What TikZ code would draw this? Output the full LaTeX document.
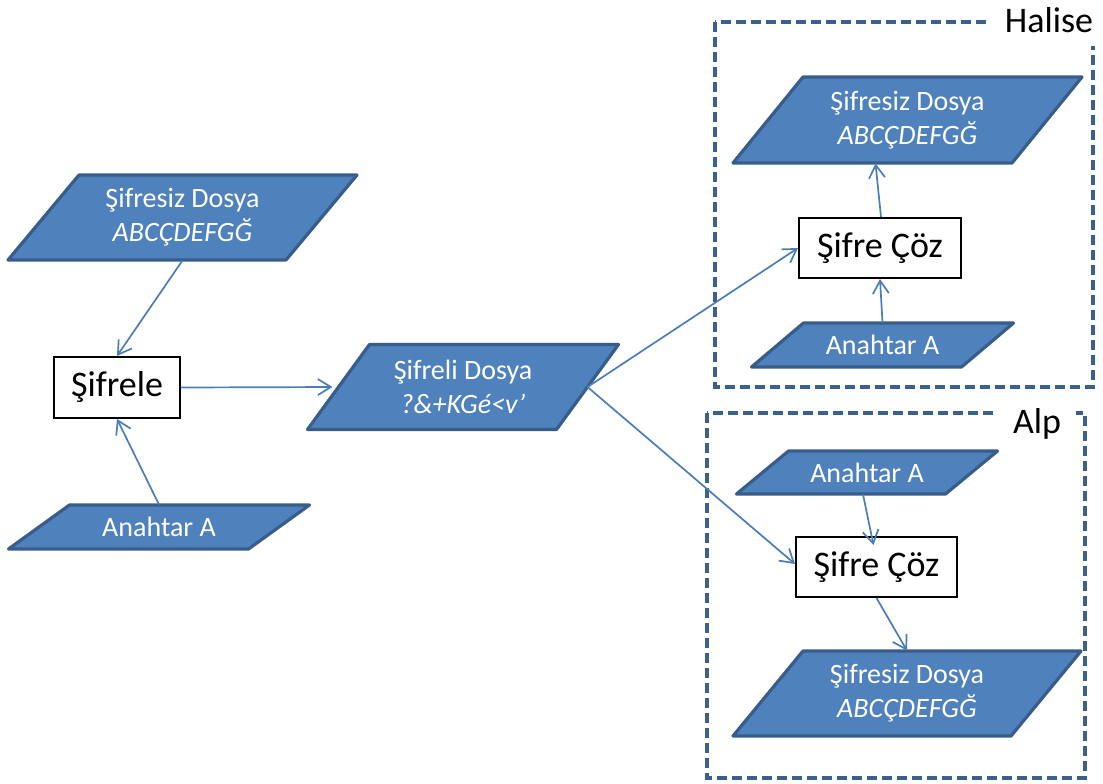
\documentclass[tikz,border=0pt]{standalone}
\usepackage{fontspec}
\setmainfont{Carlito}
\usetikzlibrary{arrows.meta,calc}

\definecolor{iofill}{HTML}{4F81BD}
\definecolor{ioline}{HTML}{385D8A}
\definecolor{connline}{HTML}{4A7EBB}
\definecolor{groupline}{HTML}{3B6090}

\tikzset{
  iobody/.style={fill=iofill, draw=ioline, line width=1.6pt, line join=round},
  iotext/.style={text=white, inner sep=0pt, align=center,
    font=\fontsize{14}{17}\selectfont},
  procbox/.style={draw=black, fill=white, line width=1pt, inner sep=0pt,
    font=\fontsize{18}{22}\selectfont},
  conn/.style={draw=connline, line width=0.85pt,
    -{Straight Barb[length=6.5pt,width=8pt]}},
  groupbox/.style={draw=groupline, line width=1.75pt, dash pattern=on 5pt off 2.5pt},
  grouplabel/.style={fill=white, inner sep=0pt, font=\fontsize{18}{22}\selectfont},
}

% data parallelogram: name, centre x, centre y, side length, height, slant, text
\newcommand\ioshape[7]{%
  \draw[iobody] ({#2-#4/2-#6/2},{#3+#5/2}) -- ({#2-#4/2+#6/2},{#3-#5/2})
    -- ({#2+#4/2+#6/2},{#3-#5/2}) -- ({#2+#4/2-#6/2},{#3+#5/2}) -- cycle;
  \node[iotext, minimum height={#5*0.5pt}] (#1) at (#2,#3) {#7};
  \coordinate (#1-e) at ({#2+#4/2},#3);
  \coordinate (#1-w) at ({#2-#4/2},#3);
}

\begin{document}
\begin{tikzpicture}[x=0.5pt, y=-0.5pt]
\useasboundingbox (0,0) rectangle (1103,783);

% group frames
\draw[groupbox] (715,22) rectangle (1093,387);
\draw[groupbox] (707,413) rectangle (1085,778);
\node[grouplabel, minimum width=59pt, minimum height=26pt] (halise) at (1049,20) {Halise};
\node[grouplabel, minimum width=39pt, minimum height=15pt] (alp) at (1037,424) {Alp};

% encryption side
\ioshape{plain}{182.5}{217.5}{278}{85}{71}{Şifresiz Dosya\\\textit{ABCÇDEFGĞ}}
\ioshape{keyenc}{159}{527}{240}{44}{61}{Anahtar A}
\ioshape{cipher}{463}{387}{249}{85}{62}{Şifreli Dosya\\\textit{?\&+KGé<v’}}
\node[procbox, minimum width=63pt, minimum height=30.5pt] (enc) at (117,387.5) {Şifrele};

% Halise
\ioshape{plainH}{907.5}{120}{279}{86}{70}{Şifresiz Dosya\\\textit{ABCÇDEFGĞ}}
\ioshape{keyH}{882.5}{345}{210}{44}{52}{Anahtar A}
\node[procbox, minimum width=81pt, minimum height=30pt] (decH) at (880,248) {Şifre Çöz};

% Alp
\ioshape{keyA}{867}{472.5}{209}{43}{52}{Anahtar A}
\ioshape{plainA}{907}{693.5}{278}{85}{70}{Şifresiz Dosya\\\textit{ABCÇDEFGĞ}}
\node[procbox, minimum width=80.5pt, minimum height=30pt] (decA) at (876.5,567) {Şifre Çöz};

% connectors
\draw[conn] (plain.south) -- (enc.north);
\draw[conn] (keyenc.north) -- (enc.south);
\draw[conn] (enc.east) -- ($(cipher-w)+(-6,0)$);
\draw[conn] (cipher-e) -- (decH.west);
\draw[conn] (cipher-e) -- ($(decA.west)+(0,-3)$);
\draw[conn] (keyH.north) -- (decH.south);
\draw[conn] ($(decH.north)+(1,0)$) -- ($(plainH.south)+(-32,0)$);
\draw[conn] ($(keyA.south)+(-4,0)$) -- ($(decA.north)+(-3,9)$);
\draw[conn] (decA.south) -- (plainA.north);
\end{tikzpicture}
\end{document}
